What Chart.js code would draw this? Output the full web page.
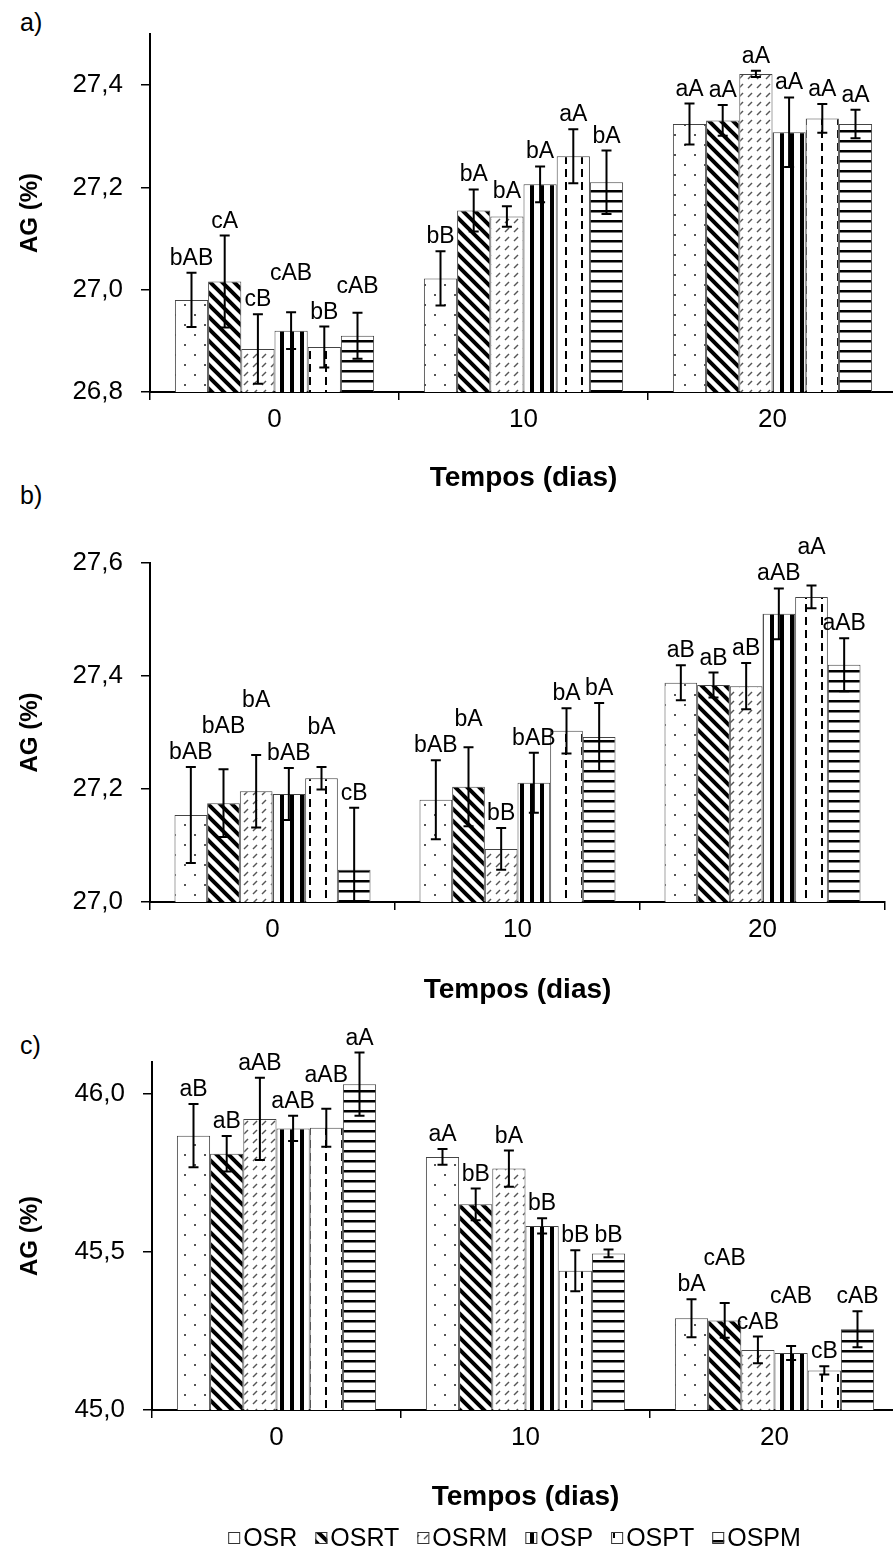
<!DOCTYPE html>
<html><head><meta charset="utf-8">
<script src="https://cdn.jsdelivr.net/npm/chart.js@4.4.1/dist/chart.umd.min.js"></script>
<style>
html,body{margin:0;padding:0;background:#fff;overflow:hidden;width:893px;height:1560px;position:relative;}
canvas{position:absolute;left:0;}
.panel{position:absolute;font-family:"Liberation Sans",Arial,sans-serif;font-size:25px;color:#000;line-height:28px;}
</style></head><body>
<div class="panel" style="left:20px;top:8px">a)</div>
<div class="panel" style="left:20px;top:481px">b)</div>
<div class="panel" style="left:20px;top:1031px">c)</div>
<canvas id="ca" width="900" height="500" style="top:0px"></canvas>
<canvas id="cb" width="900" height="510" style="top:500px"></canvas>
<canvas id="cc" width="900" height="550" style="top:1010px"></canvas>
<script>
// ---------- data ----------
const categories = ['0', '10', '20'];
const seriesNames = ['OSR', 'OSRT', 'OSRM', 'OSP', 'OSPT', 'OSPM'];

// a) values[series][time]
const aValues = [
  [26.980, 27.022, 27.324],
  [27.016, 27.155, 27.331],
  [26.884, 27.143, 27.422],
  [26.920, 27.206, 27.308],
  [26.888, 27.261, 27.335],
  [26.910, 27.210, 27.324]
];
const aErrors = [
  [0.053, 0.053, 0.040],
  [0.090, 0.041, 0.030],
  [0.068, 0.020, 0.006],
  [0.036, 0.035, 0.068],
  [0.040, 0.053, 0.028],
  [0.045, 0.062, 0.028]
];
const aLetters = [
  ['bAB', 'bB', 'aA'],
  ['cA', 'bA', 'aA'],
  ['cB', 'bA', 'aA'],
  ['cAB', 'bA', 'aA'],
  ['bB', 'aA', 'aA'],
  ['cAB', 'bA', 'aA']
];
const aTicks = [26.8, 27.0, 27.2, 27.4];

// b)
const bValues = [
  [27.154, 27.181, 27.388],
  [27.175, 27.204, 27.384],
  [27.196, 27.094, 27.382],
  [27.191, 27.211, 27.510],
  [27.219, 27.303, 27.540],
  [27.057, 27.292, 27.420]
];
const bErrors = [
  [0.085, 0.070, 0.031],
  [0.060, 0.070, 0.022],
  [0.064, 0.037, 0.041],
  [0.046, 0.053, 0.045],
  [0.020, 0.040, 0.020],
  [0.110, 0.060, 0.047]
];
const bLetters = [
  ['bAB', 'bAB', 'aB'],
  ['bAB', 'bA', 'aB'],
  ['bA', 'bB', 'aB'],
  ['bAB', 'bAB', 'aAB'],
  ['bA', 'bA', 'aA'],
  ['cB', 'bA', 'aAB']
];
const bTicks = [27.0, 27.2, 27.4, 27.6];

// c)
const cValues = [
  [45.867, 45.800, 45.290],
  [45.810, 45.650, 45.283],
  [45.920, 45.763, 45.190],
  [45.890, 45.582, 45.180],
  [45.892, 45.440, 45.125],
  [46.030, 45.495, 45.255]
];
const cErrors = [
  [0.100, 0.025, 0.060],
  [0.056, 0.050, 0.055],
  [0.130, 0.057, 0.042],
  [0.040, 0.024, 0.022],
  [0.060, 0.065, 0.013],
  [0.100, 0.012, 0.057]
];
const cLetters = [
  ['aB', 'aA', 'bA'],
  ['aB', 'bB', 'cAB'],
  ['aAB', 'bA', 'cAB'],
  ['aAB', 'bB', 'cAB'],
  ['aAB', 'bB', 'cB'],
  ['aA', 'bB', 'cAB']
];
const cTicks = [45.0, 45.5, 46.0];

// ---------- styling ----------
const FAM = '"Liberation Sans", Arial, sans-serif';
const LABEL_FONT = 23;

function makePattern(kind) {
  const c = document.createElement('canvas');
  let g;
  if (kind === 'dots') {
    c.width = 20; c.height = 20; g = c.getContext('2d');
    g.fillStyle = '#fff'; g.fillRect(0, 0, 20, 20);
    g.fillStyle = '#555';
    g.fillRect(4, 4, 2, 2); g.fillRect(14, 14, 2, 2);
  } else if (kind === 'diag') {
    c.width = 12; c.height = 12; g = c.getContext('2d');
    g.fillStyle = '#fff'; g.fillRect(0, 0, 12, 12);
    g.strokeStyle = '#000'; g.lineWidth = 4;
    g.beginPath();
    g.moveTo(-6, -6); g.lineTo(18, 18);
    g.moveTo(-6, 6); g.lineTo(6, 18);
    g.moveTo(6, -6); g.lineTo(18, 6);
    g.stroke();
  } else if (kind === 'dash') {
    c.width = 9; c.height = 9; g = c.getContext('2d');
    g.fillStyle = '#fff'; g.fillRect(0, 0, 9, 9);
    g.strokeStyle = '#555'; g.lineWidth = 1.5;
    g.beginPath(); g.moveTo(1, 7); g.lineTo(5, 3); g.stroke();
  } else if (kind === 'vstripe') {
    c.width = 10; c.height = 4; g = c.getContext('2d');
    g.fillStyle = '#fff'; g.fillRect(0, 0, 10, 4);
    g.fillStyle = '#000'; g.fillRect(0, 0, 4, 4);
  } else if (kind === 'vdash') {
    c.width = 16; c.height = 13; g = c.getContext('2d');
    g.fillStyle = '#fff'; g.fillRect(0, 0, 16, 13);
    g.fillStyle = '#000'; g.fillRect(5, 0, 2, 8);
  } else {
    c.width = 4; c.height = 10; g = c.getContext('2d');
    g.fillStyle = '#fff'; g.fillRect(0, 0, 4, 10);
    g.fillStyle = '#000'; g.fillRect(0, 0, 4, 2.5);
  }
  return g.createPattern(c, 'repeat');
}
const patternKinds = ['dots', 'diag', 'dash', 'vstripe', 'vdash', 'hline'];

// ---------- plugins ----------
const errLabelPlugin = {
  id: 'errLabels',
  afterDatasetsDraw(chart) {
    const ctx = chart.ctx, y = chart.scales.y;
    const nGroups = chart.data.labels.length;
    ctx.save();
    ctx.font = LABEL_FONT + 'px ' + FAM;
    const lineH = LABEL_FONT + 3;
    for (let j = 0; j < nGroups; j++) {
      const placed = [];
      chart.data.datasets.forEach((ds, i) => {
        const bar = chart.getDatasetMeta(i).data[j];
        const v = ds.data[j], e = ds.errors[j];
        const yt = y.getPixelForValue(v + e);
        const lowClipped = (v - e) < y.min;
        const yb = y.getPixelForValue(Math.max(v - e, y.min));
        ctx.strokeStyle = '#000'; ctx.lineWidth = 2;
        ctx.beginPath();
        ctx.moveTo(bar.x, yt); ctx.lineTo(bar.x, yb);
        ctx.moveTo(bar.x - 5, yt); ctx.lineTo(bar.x + 5, yt);
        if (!lowClipped) { ctx.moveTo(bar.x - 5, yb); ctx.lineTo(bar.x + 5, yb); }
        ctx.stroke();
        // letter label, lifted when it would collide with a previous one
        const w = ctx.measureText(ds.letters[j]).width;
        let ly = yt - 8;
        let moved = true;
        while (moved) {
          moved = false;
          for (const p of placed) {
            const hOverlap = Math.abs(p.x - bar.x) < (p.w + w) / 2 + 2;
            const vOverlap = Math.abs(p.y - ly) < lineH;
            if (hOverlap && vOverlap) { ly = p.y - lineH; moved = true; }
          }
        }
        placed.push({ x: bar.x, y: ly, w: w, t: ds.letters[j] });
      });
      ctx.fillStyle = '#000';
      ctx.textAlign = 'center'; ctx.textBaseline = 'alphabetic';
      placed.forEach(p => ctx.fillText(p.t, p.x, p.y));
    }
    ctx.restore();
  }
};

const bottomLegendPlugin = {
  id: 'bottomLegend',
  afterDraw(chart) {
    const o = chart.options.plugins.bottomLegend;
    if (!o || !o.display) return;
    const ctx = chart.ctx;
    ctx.save();
    ctx.font = '25px ' + FAM;
    const box = 12, gapBox = 3, gapItem = 18;
    const items = chart.data.datasets.map(ds => ({ label: ds.label, fill: ds.backgroundColor, w: box + gapBox + ctx.measureText(ds.label).width }));
    const total = items.reduce((s, it) => s + it.w, 0) + gapItem * (items.length - 1);
    const cx = (chart.chartArea.left + chart.chartArea.right) / 2 - 11;
    let x = cx - total / 2;
    const yc = chart.height - 22;
    items.forEach(it => {
      ctx.fillStyle = it.fill;
      ctx.fillRect(x, yc - box / 2, box, box);
      ctx.strokeStyle = '#333'; ctx.lineWidth = 1;
      ctx.strokeRect(x + 0.5, yc - box / 2 + 0.5, box - 1, box - 1);
      ctx.fillStyle = '#000';
      ctx.textAlign = 'left'; ctx.textBaseline = 'middle';
      ctx.fillText(it.label, x + box + gapBox, yc + 1);
      x += it.w + gapItem;
    });
    ctx.restore();
  }
};

// ---------- chart builder ----------
function buildChart(id, values, errors, letters, ticks, min, max, lay, withLegend) {
  const patterns = patternKinds.map(makePattern);
  return new Chart(document.getElementById(id), {
    type: 'bar',
    data: {
      labels: categories,
      datasets: seriesNames.map((n, i) => ({
        label: n,
        data: values[i],
        errors: errors[i],
        letters: letters[i],
        backgroundColor: patterns[i],
        borderColor: '#444',
        borderWidth: 1,
        categoryPercentage: 0.8,
        barPercentage: 1.0
      }))
    },
    options: {
      responsive: false,
      animation: false,
      devicePixelRatio: 1,
      layout: { padding: { top: lay.top, left: 0, right: lay.right, bottom: lay.bottom } },
      plugins: {
        legend: { display: false },
        tooltip: { enabled: false },
        bottomLegend: { display: withLegend }
      },
      scales: {
        x: {
          offset: true,
          grid: { offset: true, drawOnChartArea: false, drawTicks: true, tickLength: 8, color: '#000', lineWidth: 1.5 },
          border: { color: '#000', width: 2 },
          ticks: { color: '#000', font: { family: FAM, size: 26 }, padding: 4, maxRotation: 0 },
          title: { display: true, text: 'Tempos (dias)', color: '#000', font: { family: FAM, size: 28, weight: 'bold' }, padding: { top: 0, bottom: lay.xtPad } },
          afterFit(s) { s.height = lay.xh; }
        },
        y: {
          min: min, max: max,
          afterBuildTicks(s) { s.ticks = ticks.map(v => ({ value: v })); },
          grid: { drawOnChartArea: false, drawTicks: true, tickLength: 9, color: '#000', lineWidth: 1.5 },
          border: { color: '#000', width: 2 },
          ticks: { color: '#000', font: { family: FAM, size: 26 }, padding: 18, callback: v => Number(v).toFixed(1).replace('.', ',') },
          title: { display: true, text: 'AG (%)', color: '#000', font: { family: FAM, size: 24, weight: 'bold' }, padding: { top: 16, bottom: 0 } },
          afterFit(s) { s.width = lay.yw; }
        }
      }
    },
    plugins: [errLabelPlugin, bottomLegendPlugin]
  });
}

buildChart('ca', aValues, aErrors, aLetters, aTicks, 26.8, 27.5,
  { top: 34, right: 3, bottom: 0, xh: 108, xtPad: 5, yw: 150 }, false);
buildChart('cb', bValues, bErrors, bLetters, bTicks, 27.0, 27.6,
  { top: 63, right: 15, bottom: 0, xh: 108, xtPad: 3, yw: 150 }, false);
buildChart('cc', cValues, cErrors, cLetters, cTicks, 45.0, 46.1,
  { top: 52, right: 1, bottom: 40, xh: 110, xtPad: 6, yw: 152 }, true);
</script>
</body></html>
